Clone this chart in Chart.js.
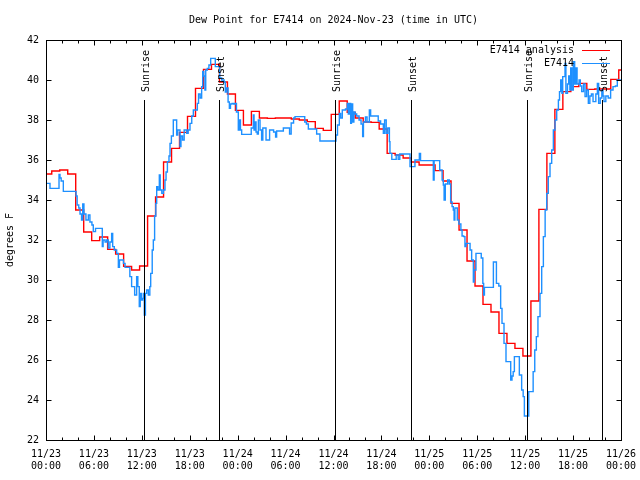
<!DOCTYPE html>
<html>
<head>
<meta charset="utf-8">
<script src="https://cdn.jsdelivr.net/npm/chart.js@4.4.0/dist/chart.umd.min.js"></script>
<style>
  html, body { margin: 0; padding: 0; background: #fff; }
</style>
</head>
<body>
<canvas id="chart" width="640" height="480"></canvas>
<script>
const titleText = 'Dew Point for E7414 on 2024-Nov-23 (time in UTC)'
const yLabel = 'degrees F'
const dayLabels = ['11/23', '11/24', '11/25', '11/26']

// hours since 11/23 00:00 UTC
const sunTimes = [12.31, 21.7, 36.19, 45.74, 60.27, 69.66]
const sunLabels = ['Sunrise', 'Sunset', 'Sunrise', 'Sunset', 'Sunrise', 'Sunset']

// hourly analysis steps (first one starts at 0, next ones at hh:43)
const analysisValues = [
  35.3, 35.45, 35.5, 35.3, 33.5, 32.4, 31.97, 32.15, 31.53, 31.3,
  30.68, 30.5, 30.7, 33.2, 34.15, 35.9, 36.58, 37.38, 38.18, 39.58,
  40.53, 40.78, 39.9, 39.3, 38.48, 37.75, 38.43, 38.1, 38.08, 38.1,
  38.1, 38.05, 38.0, 37.92, 37.58, 37.48, 38.28, 38.95, 38.38, 38.1,
  37.9, 37.88, 37.55, 36.33, 36.25, 36.1, 35.9, 35.75, 35.75, 35.47,
  34.95, 33.83, 32.5, 30.95, 29.7, 28.78, 28.4, 27.33, 26.83, 26.58,
  26.2, 28.95, 33.53, 36.33, 38.53, 39.42, 39.67, 39.83, 39.53, 39.55,
  39.55, 40.03, 40.5,
]

// station observations
const obsHours = [
  0, 0.5, 1.55, 1.63, 1.75, 1.9, 2.17, 3.7, 3.76, 3.9,
  4.1, 4.26, 4.45, 4.6, 4.75, 5.0, 5.3, 5.5, 5.75, 5.92,
  6.2, 6.97, 7.05, 7.15, 7.4, 7.6, 7.8, 8.0, 8.22, 8.35,
  8.55, 8.85, 9.06, 9.2, 9.5, 9.7, 9.9, 10.31, 10.5, 10.72,
  11.0, 11.1, 11.35, 11.5, 11.68, 11.8, 11.95, 12.1, 12.2, 12.31,
  12.45, 12.6, 12.81, 13.0, 13.11, 13.3, 13.44, 13.6, 13.75, 13.86,
  14.0, 14.19, 14.3, 14.5, 14.7, 14.9, 15.03, 15.2, 15.4, 15.53,
  15.7, 15.94, 16.2, 16.36, 16.5, 16.78, 16.9, 17.1, 17.3, 17.61,
  17.8, 18.03, 18.25, 18.45, 18.7, 18.95, 19.1, 19.3, 19.49, 19.62,
  19.75, 19.9, 20.0, 20.2, 20.4, 20.62, 21.1, 21.2, 21.6, 21.75,
  22.0, 22.3, 22.45, 22.6, 22.8, 22.96, 23.1, 23.3, 23.5, 23.67,
  23.85, 24.08, 24.2, 24.35, 24.5, 25.55, 25.7, 25.96, 26.05, 26.2,
  26.3, 26.45, 26.59, 26.8, 27.0, 27.15, 27.35, 27.55, 27.85, 28.0,
  28.3, 28.5, 28.75, 28.88, 29.72, 30.35, 30.5, 30.7, 31.0, 31.18,
  32.22, 32.4, 32.6, 32.85, 33.89, 34.3, 36.19, 36.31, 36.5, 36.73,
  36.9, 37.1, 37.5, 37.73, 37.85, 38.0, 38.15, 38.25, 38.4, 38.55,
  38.7, 38.9, 39.2, 39.45, 39.65, 39.75, 40.0, 40.2, 40.49, 40.65,
  41.41, 41.6, 41.9, 42.24, 42.4, 42.6, 42.8, 43.0, 43.07, 43.3,
  43.85, 44.1, 44.3, 45.58, 46.2, 46.75, 46.9, 48.5, 48.6, 49.3,
  49.6, 49.75, 49.85, 50.0, 50.3, 50.5, 50.67, 50.85, 51.0, 51.1,
  51.2, 51.5, 51.7, 51.95, 52.1, 52.3, 52.46, 52.6, 53.1, 53.3,
  53.51, 53.6, 53.84, 54.5, 54.7, 54.8, 54.9, 56.02, 56.4, 56.7,
  56.93, 57.1, 57.35, 57.6, 58.19, 58.35, 58.5, 58.65, 59.27, 59.56,
  59.75, 59.9, 60.45, 61.0, 61.2, 61.4, 61.6, 61.86, 62.07, 62.28,
  62.5, 62.7, 62.9, 63.11, 63.32, 63.53, 63.74, 63.95, 64.16, 64.3,
  64.45, 64.6, 64.7, 64.99, 65.1, 65.3, 65.45, 65.6, 65.7, 65.85,
  66.03, 66.2, 66.35, 66.5, 66.75, 66.9, 67.08, 67.3, 67.5, 67.7,
  67.91, 68.1, 68.3, 68.5, 68.85, 69.04, 69.2, 69.4, 69.6, 69.75,
  69.87, 70.1, 70.4, 70.7, 71.0, 71.3, 71.54, 72.0,
]
const obsValues = [
  34.83, 34.58, 34.58, 35.28, 35.1, 34.95, 34.43, 34.43, 34.2, 33.75,
  33.6, 33.3, 33.0, 33.8, 33.3, 33.0, 33.25, 32.9, 32.75, 32.42,
  32.58, 32.58, 31.67, 32.0, 31.9, 32.0, 31.6, 31.9, 32.33, 31.67,
  31.5, 31.33, 30.63, 31.0, 31.0, 30.83, 30.63, 30.63, 30.17, 29.67,
  29.67, 29.25, 30.17, 29.67, 28.67, 29.33, 29.0, 29.08, 29.33, 28.25,
  29.33, 29.5, 29.25, 29.67, 30.33, 31.5, 32.0, 33.2, 33.83, 34.67,
  34.5, 35.25, 34.5, 34.33, 34.5, 35.0, 35.4, 35.92, 36.2, 36.83,
  37.2, 38.0, 38.0, 37.25, 37.5, 36.67, 37.2, 37.0, 37.5, 37.33,
  37.5, 37.83, 38.2, 38.5, 38.5, 38.83, 39.3, 39.1, 39.67, 40.43,
  40.2, 39.5, 40.5, 40.58, 40.75, 41.08, 41.08, 40.67, 40.67, 40.1,
  40.0, 39.9, 39.4, 39.6, 38.9, 38.58, 38.8, 38.83, 38.8, 38.83,
  38.4, 37.5, 38.0, 37.5, 37.28, 37.28, 37.6, 38.25, 37.5, 37.9,
  37.4, 37.3, 38.0, 37.5, 37.0, 37.6, 37.6, 37.0, 37.0, 37.5,
  37.5, 37.4, 37.15, 37.45, 37.6, 37.6, 37.3, 37.85, 38.1, 38.17,
  38.17, 37.9, 37.8, 37.55, 37.3, 36.95, 36.95, 37.25, 37.75, 38.33,
  38.1, 38.5, 38.55, 38.83, 38.3, 38.83, 37.83, 38.8, 37.9, 38.4,
  38.3, 38.2, 38.0, 37.8, 37.17, 37.9, 38.15, 37.9, 38.5, 38.2,
  38.2, 37.95, 37.8, 37.33, 38.0, 37.33, 37.6, 36.92, 36.33, 36.03,
  36.25, 36.03, 36.3, 35.67, 36.0, 36.33, 35.97, 35.0, 35.97, 35.5,
  35.0, 34.75, 34.0, 34.8, 35.0, 34.8, 33.9, 33.67, 33.5, 33.0,
  33.6, 33.0, 32.8, 32.5, 32.2, 32.17, 31.67, 31.83, 31.5, 31.0,
  29.9, 30.5, 31.33, 31.1, 29.83, 29.25, 29.63, 30.9, 29.83, 29.7,
  28.58, 27.83, 26.83, 25.92, 25.0, 25.2, 25.42, 26.17, 25.25, 24.5,
  24.17, 23.2, 24.42, 25.42, 26.5, 27.17, 28.17, 29.33, 30.67, 32.17,
  33.5, 34.33, 35.17, 35.83, 36.5, 37.5, 38.0, 38.5, 39.0, 39.42,
  40.0, 39.33, 40.17, 40.83, 39.33, 39.8, 40.2, 39.5, 40.6, 39.5,
  40.92, 39.8, 40.6, 39.8, 40.0, 39.7, 39.42, 39.8, 39.17, 39.5,
  38.83, 39.2, 39.3, 38.92, 39.3, 39.83, 38.83, 39.1, 39.5, 39.2,
  38.92, 39.2, 39.1, 39.5, 39.67, 39.7, 40.0, 40.0,
]

const analysisPoints = analysisValues.map((v, i) => ({ x: i === 0 ? 0 : i - 0.28, y: v }))
analysisPoints.push({ x: 72, y: analysisValues[analysisValues.length - 1] })
const obsPoints = obsHours.map((h, i) => ({ x: h, y: obsValues[i] }))

const font = { family: 'DejaVu Sans Mono', size: 10 }

// gnuplot style frame, inside ticks, sun lines, key and titles
const gnuplotBits = {
  id: 'gnuplotBits',
  afterDatasetsDraw(chart) {
    const { ctx, chartArea: a, scales: { x, y } } = chart
    ctx.save()
    ctx.strokeStyle = '#000'
    ctx.fillStyle = '#000'
    ctx.lineWidth = 1
    ctx.font = '10px "DejaVu Sans Mono"'

    // sunrise / sunset markers
    const lineTop = Math.round(y.getPixelForValue(39))
    sunTimes.forEach((t, i) => {
      const px = Math.round(x.getPixelForValue(t)) + 0.5
      ctx.beginPath()
      ctx.moveTo(px, lineTop)
      ctx.lineTo(px, a.bottom)
      ctx.stroke()
      ctx.save()
      ctx.translate(px + 1.5, lineTop - 8)
      ctx.rotate(-Math.PI / 2)
      ctx.textAlign = 'left'
      ctx.textBaseline = 'middle'
      ctx.fillText(sunLabels[i], 0, 0)
      ctx.restore()
    })

    // frame
    const l = Math.round(a.left) + 0.5, r = Math.round(a.right) + 0.5
    const t = Math.round(a.top) + 0.5, b = Math.round(a.bottom) + 0.5
    ctx.strokeRect(l, t, r - l, b - t)

    // ticks
    ctx.beginPath()
    x.ticks.forEach(tk => {
      const px = Math.round(x.getPixelForValue(tk.value)) + 0.5
      const len = tk.value % 6 === 0 ? 5 : 3
      ctx.moveTo(px, b); ctx.lineTo(px, b - len)
      ctx.moveTo(px, t); ctx.lineTo(px, t + len)
    })
    y.ticks.forEach(tk => {
      const py = Math.round(y.getPixelForValue(tk.value)) + 0.5
      ctx.moveTo(l, py); ctx.lineTo(l + 5, py)
      ctx.moveTo(r, py); ctx.lineTo(r - 5, py)
    })
    ctx.stroke()

    // key
    ctx.textAlign = 'right'
    ctx.textBaseline = 'middle'
    chart.data.datasets.forEach((ds, i) => {
      const ky = 50.5 + i * 13
      ctx.fillStyle = '#000'
      ctx.fillText(ds.label, 574, ky)
      ctx.strokeStyle = ds.borderColor
      ctx.beginPath()
      ctx.moveTo(582, ky)
      ctx.lineTo(610, ky)
      ctx.stroke()
    })

    // title and y label
    ctx.fillStyle = '#000'
    ctx.textAlign = 'center'
    ctx.fillText(titleText, (a.left + a.right) / 2, 20)
    ctx.save()
    ctx.translate(10, (a.top + a.bottom) / 2)
    ctx.rotate(-Math.PI / 2)
    ctx.fillText(yLabel, 0, 0)
    ctx.restore()
    ctx.restore()
  },
}

const ctx = document.getElementById('chart').getContext('2d')

const chart = new Chart(ctx, {
  type: 'line',
  data: {
    datasets: [
      {
        label: 'E7414 analysis',
        data: analysisPoints,
        borderColor: '#ff0000',
        borderWidth: 1.4,
        stepped: true,
        pointRadius: 0,
        fill: false,
        order: 1,
      },
      {
        label: 'E7414',
        data: obsPoints,
        borderColor: '#1e90ff',
        borderWidth: 1.4,
        stepped: true,
        pointRadius: 0,
        fill: false,
        order: 0,
      },
    ],
  },
  options: {
    responsive: false,
    animation: false,
    layout: { padding: { top: 40, right: 19, left: 0, bottom: 0 } },
    plugins: {
      legend: { display: false },
      title: { display: false },
      tooltip: { enabled: false },
    },
    scales: {
      x: {
        type: 'linear',
        min: 0,
        max: 72,
        afterFit: s => {
          s.height = 40
          s.paddingLeft = 0
          s.paddingRight = 0
        },
        grid: { display: false, drawTicks: false, tickLength: 0 },
        border: { display: false },
        ticks: {
          stepSize: 2,
          autoSkip: false,
          maxRotation: 0,
          padding: 8,
          color: '#000',
          font,
          callback: v => {
            if (v % 6 !== 0) return ''
            const hh = String(v % 24).padStart(2, '0')
            return [dayLabels[Math.floor(v / 24)], `${hh}:00`]
          },
        },
      },
      y: {
        min: 22,
        max: 42,
        afterFit: s => { s.width = 46 },
        grid: { display: false, drawTicks: false, tickLength: 0 },
        border: { display: false },
        ticks: { stepSize: 2, padding: 7, color: '#000', font },
      },
    },
  },
  plugins: [gnuplotBits],
})
</script>
</body>
</html>
